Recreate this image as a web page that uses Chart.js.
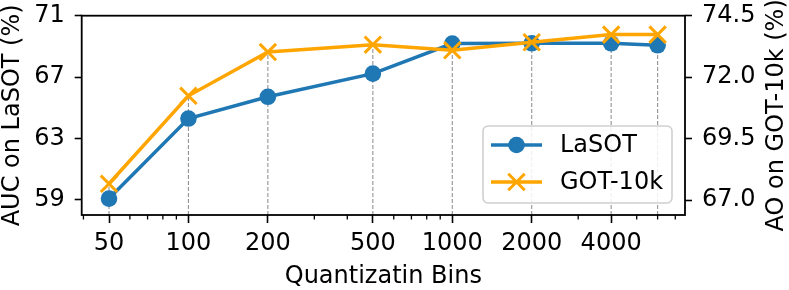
<!DOCTYPE html>
<html><head><meta charset="utf-8">
<script src="https://cdn.jsdelivr.net/npm/chart.js@4/dist/chart.umd.min.js"></script>
<style>html,body{margin:0;padding:0;background:#fff}#wrap{width:789px;height:290px;position:relative}canvas{display:block}</style>
</head><body><div id="wrap"><canvas id="c" width="789" height="290"></canvas></div>
<script>
// ---- data ----
const bins = [50, 100, 200, 500, 1000, 2000, 4000, 6000];
const lasot = [59.07, 64.29, 65.71, 67.22, 69.18, 69.20, 69.20, 69.07];
const got10k = [67.66, 71.24, 73.02, 73.32, 73.09, 73.42, 73.73, 73.73];
const xMajorTicks = [50, 100, 200, 500, 1000, 2000, 4000];
const xMinorTicks = [40, 60, 70, 80, 90, 300, 400, 600, 700, 800, 900, 3000, 5000, 6000, 7000];
const leftTicks = [59, 63, 67, 71];
const rightTicks = [67.0, 69.5, 72.0, 74.5];
const seriesNames = ['LaSOT', 'GOT-10k'];
const xTitle = 'Quantizatin Bins';
const yTitle = 'AUC on LaSOT (%)';
const y2Title = 'AO on GOT-10k (%)';

const BLUE = '#1f77b4', ORANGE = '#ffa500';
const FONT = '"DejaVu Sans", "Liberation Sans", sans-serif';
const FS = 24;

const decor = {
  id: 'decor',
  beforeDatasetsDraw(chart) {
    const ctx = chart.ctx, a = chart.chartArea;
    const xs = chart.scales.x, ys = chart.scales.y, ys2 = chart.scales.y2;
    ctx.save();
    ctx.strokeStyle = 'rgba(128,128,128,0.85)';
    ctx.lineWidth = 1.1;
    ctx.setLineDash([4, 2]);
    bins.forEach((b, i) => {
      const px = xs.getPixelForValue(b);
      const top = Math.min(ys.getPixelForValue(lasot[i]), ys2.getPixelForValue(got10k[i]));
      ctx.beginPath();
      ctx.moveTo(px, a.bottom);
      ctx.lineTo(px, top);
      ctx.stroke();
    });
    ctx.restore();
  },
  afterDraw(chart) {
    const ctx = chart.ctx, a = chart.chartArea, xs = chart.scales.x;
    ctx.save();
    // frame
    ctx.strokeStyle = '#000';
    ctx.lineWidth = 1.8;
    ctx.strokeRect(a.left, a.top, a.right - a.left, a.bottom - a.top);
    // minor ticks
    ctx.lineWidth = 1.3;
    xMinorTicks.forEach(v => {
      const px = xs.getPixelForValue(v);
      ctx.beginPath();
      ctx.moveTo(px, a.bottom);
      ctx.lineTo(px, a.bottom + 4.5);
      ctx.stroke();
    });
    // axis titles
    ctx.fillStyle = '#000';
    ctx.font = FS + 'px ' + FONT;
    ctx.textAlign = 'center';
    ctx.textBaseline = 'alphabetic';
    ctx.fillText(xTitle, (a.left + a.right) / 2, 283);
    const cy = (a.top + a.bottom) / 2;
    ctx.save();
    ctx.translate(19, cy); ctx.rotate(-Math.PI / 2);
    ctx.fillText(yTitle, 0, 0);
    ctx.restore();
    ctx.save();
    ctx.translate(783, cy); ctx.rotate(-Math.PI / 2);
    ctx.fillText(y2Title, 0, 0);
    ctx.restore();
    // legend
    const bx = 483, by = 126, bw = 189, bh = 77;
    ctx.beginPath();
    ctx.roundRect(bx, by, bw, bh, 5);
    ctx.fillStyle = 'rgba(255,255,255,0.85)';
    ctx.fill();
    ctx.strokeStyle = '#d0d0d0';
    ctx.lineWidth = 1.6;
    ctx.stroke();
    const rows = [
      {name: seriesNames[0], color: BLUE, y: 145, marker: 'o'},
      {name: seriesNames[1], color: ORANGE, y: 182, marker: 'x'}
    ];
    rows.forEach(r => {
      ctx.strokeStyle = r.color;
      ctx.lineWidth = 3.5;
      ctx.beginPath();
      ctx.moveTo(491, r.y); ctx.lineTo(542, r.y);
      ctx.stroke();
      const mx = 516.5;
      if (r.marker === 'o') {
        ctx.fillStyle = r.color;
        ctx.beginPath(); ctx.arc(mx, r.y, 8.3, 0, Math.PI * 2); ctx.fill();
      } else {
        const d = 8.2;
        ctx.lineWidth = 3;
        ctx.beginPath();
        ctx.moveTo(mx - d, r.y - d); ctx.lineTo(mx + d, r.y + d);
        ctx.moveTo(mx - d, r.y + d); ctx.lineTo(mx + d, r.y - d);
        ctx.stroke();
      }
      ctx.fillStyle = '#000';
      ctx.textAlign = 'left';
      ctx.textBaseline = 'middle';
      ctx.fillText(r.name, 560, r.y + 1);
    });
    ctx.restore();
  }
};

const noPad = s => { s.paddingTop = 0; s.paddingBottom = 0; s.paddingLeft = 0; s.paddingRight = 0; };
const tickFont = {family: FONT, size: FS};
new Chart(document.getElementById('c'), {
  type: 'line',
  data: {
    datasets: [
      {
        label: seriesNames[0], yAxisID: 'y', order: 1,
        data: bins.map((b, i) => ({x: b, y: lasot[i]})),
        borderColor: BLUE, backgroundColor: BLUE, borderWidth: 3.5,
        pointStyle: 'circle', pointRadius: 8.3, pointBorderWidth: 0,
        pointBackgroundColor: BLUE, tension: 0, fill: false
      },
      {
        label: seriesNames[1], yAxisID: 'y2', order: 0,
        data: bins.map((b, i) => ({x: b, y: got10k[i]})),
        borderColor: ORANGE, backgroundColor: ORANGE, borderWidth: 3.5,
        pointStyle: 'crossRot', pointRadius: 11.6, pointBorderWidth: 3,
        pointBorderColor: ORANGE, tension: 0, fill: false
      }
    ]
  },
  options: {
    responsive: false, animation: false, devicePixelRatio: 1,
    layout: {padding: {top: 15.7, left: 0, right: 0, bottom: 0}},
    plugins: {legend: {display: false}, tooltip: {enabled: false}},
    events: [],
    scales: {
      x: {
        type: 'logarithmic', position: 'bottom', min: 39.4, max: 7620,
        afterBuildTicks: s => { s.ticks = xMajorTicks.map(v => ({value: v})); },
        afterFit: s => { s.height = 75; noPad(s); },
        ticks: {autoSkip: false, maxRotation: 0, minRotation: 0, padding: 6, color: '#000', font: tickFont,
          callback: v => String(v)},
        grid: {drawOnChartArea: false, drawTicks: true, tickLength: 8, tickWidth: 1.6, tickColor: '#000'},
        border: {display: false},
        title: {display: false}
      },
      y: {
        type: 'linear', position: 'left', min: 58.0, max: 71.0,
        afterBuildTicks: s => { s.ticks = leftTicks.map(v => ({value: v})); },
        afterFit: s => { s.width = 81.7; noPad(s); },
        ticks: {padding: 10, color: '#000', font: tickFont, callback: v => String(v)},
        grid: {drawOnChartArea: false, drawTicks: true, tickLength: 7, tickWidth: 1.6, tickColor: '#000'},
        border: {display: false}
      },
      y2: {
        type: 'linear', position: 'right', min: 66.39, max: 74.5,
        afterBuildTicks: s => { s.ticks = rightTicks.map(v => ({value: v})); },
        afterFit: s => { s.width = 104; noPad(s); },
        ticks: {padding: 10, color: '#000', font: tickFont, callback: v => Number(v).toFixed(1)},
        grid: {drawOnChartArea: false, drawTicks: true, tickLength: 7, tickWidth: 1.6, tickColor: '#000'},
        border: {display: false}
      }
    }
  },
  plugins: [decor]
});
</script>
</body></html>
